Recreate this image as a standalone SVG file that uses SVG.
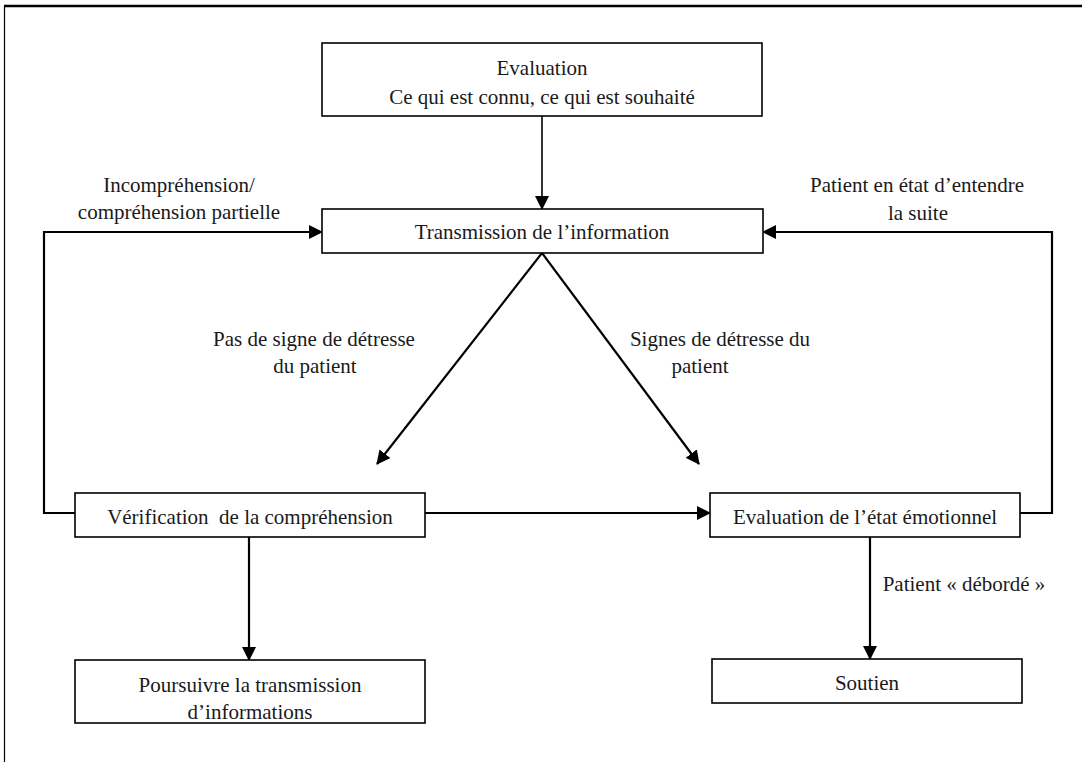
<svg xmlns="http://www.w3.org/2000/svg" width="1082" height="762" viewBox="0 0 1082 762">
<style>
  .box{fill:#fff;stroke:#000;stroke-width:1.6}
  .t{font-family:'Liberation Serif','Times New Roman','DejaVu Serif',serif;font-size:21px;fill:#1a1a1a;text-anchor:middle}
  .c{fill:none;stroke:#000;stroke-width:2.2}
  .ct{fill:none;stroke:#000;stroke-width:1.6}
</style>
<defs>
  <marker id="ah" markerWidth="14" markerHeight="14" refX="13" refY="7" orient="auto" markerUnits="userSpaceOnUse">
    <path d="M0,0 L14,7 L0,14 Z" fill="#000"/>
  </marker>
</defs>
<rect width="1082" height="762" fill="#fff"/>
<g id="frame">
  <line x1="4" y1="6" x2="1082" y2="6" stroke="#000" stroke-width="2.4"/>
  <line x1="4.5" y1="6" x2="4.5" y2="762" stroke="#000" stroke-width="1.2"/>
</g>
<g id="connectors">
  <line class="ct" x1="542" y1="116" x2="542" y2="209" marker-end="url(#ah)"/>
  <polyline class="c" points="75,513 44,513 44,232 322,232" marker-end="url(#ah)"/>
  <polyline class="c" points="1020,513 1052,513 1052,232 763,232" marker-end="url(#ah)"/>
  <line class="c" x1="542" y1="253" x2="377" y2="464" marker-end="url(#ah)"/>
  <line class="c" x1="542" y1="253" x2="699" y2="464" marker-end="url(#ah)"/>
  <line class="c" x1="425" y1="513" x2="710" y2="513" marker-end="url(#ah)"/>
  <line class="c" x1="249" y1="537" x2="249" y2="660" marker-end="url(#ah)"/>
  <line class="c" x1="870" y1="537" x2="870" y2="659" marker-end="url(#ah)"/>
  <text class="t" x="179" y="192">Incompréhension/</text>
  <text class="t" x="179" y="219">compréhension partielle</text>
  <text class="t" x="917" y="192">Patient en état d’entendre</text>
  <text class="t" x="918" y="220">la suite</text>
  <text class="t" x="314" y="346">Pas de signe de détresse</text>
  <text class="t" x="315" y="373">du patient</text>
  <text class="t" x="720" y="346">Signes de détresse du</text>
  <text class="t" x="700" y="373">patient</text>
  <text class="t" x="964" y="591">Patient « débordé »</text>
</g>
<g id="evaluation">
  <rect class="box" x="322" y="43" width="440" height="73"/>
  <text class="t" x="542" y="75">Evaluation</text>
  <text class="t" x="542" y="104">Ce qui est connu, ce qui est souhaité</text>
</g>
<g id="transmission">
  <rect class="box" x="322" y="209" width="441" height="44"/>
  <text class="t" x="542" y="239">Transmission de l’information</text>
</g>
<g id="verification">
  <rect class="box" x="75" y="493" width="350" height="44"/>
  <text class="t" x="250" y="524" xml:space="preserve" style="white-space:pre">Vérification  de la compréhension</text>
</g>
<g id="etat-emotionnel">
  <rect class="box" x="710" y="493" width="310" height="44"/>
  <text class="t" x="865" y="524">Evaluation de l’état émotionnel</text>
</g>
<g id="poursuivre">
  <rect class="box" x="75" y="660" width="350" height="63"/>
  <text class="t" x="250" y="692">Poursuivre la transmission</text>
  <text class="t" x="250" y="719">d’informations</text>
</g>
<g id="soutien">
  <rect class="box" x="712" y="659" width="310" height="44"/>
  <text class="t" x="867" y="690">Soutien</text>
</g>
</svg>
